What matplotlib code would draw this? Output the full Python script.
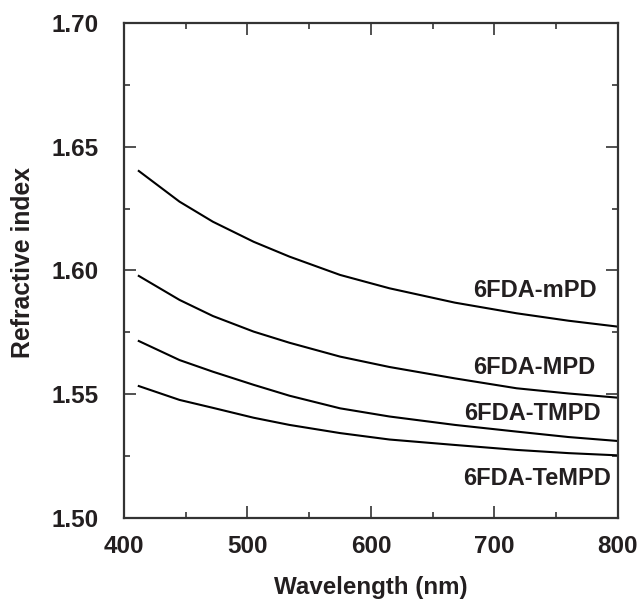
import numpy as np
import matplotlib.pyplot as plt
from matplotlib.ticker import MultipleLocator

plt.rcParams['font.family'] = ['Liberation Sans', 'DejaVu Sans']
plt.rcParams['font.weight'] = 'bold'

# wavelength (nm) and refractive index
wavelength = [412, 445, 472, 505, 534, 575, 615, 668, 718, 760, 800]
n_mPD = [1.6402, 1.6278, 1.6197, 1.6116, 1.6056, 1.5982, 1.5928, 1.5870, 1.5827, 1.5797, 1.5773]
n_MPD = [1.5978, 1.5881, 1.5816, 1.5753, 1.5708, 1.5652, 1.5610, 1.5564, 1.5524, 1.5503, 1.5486]
n_TMPD = [1.5715, 1.5638, 1.5591, 1.5538, 1.5494, 1.5443, 1.5410, 1.5376, 1.5349, 1.5327, 1.5311]
n_TeMPD = [1.5533, 1.5477, 1.5445, 1.5405, 1.5376, 1.5343, 1.5317, 1.5295, 1.5275, 1.5262, 1.5253]

series = [n_mPD, n_MPD, n_TMPD, n_TeMPD]
names = ['6FDA-mPD', '6FDA-MPD', '6FDA-TMPD', '6FDA-TeMPD']
label_x = [783, 782, 786, 794]
label_y = [1.5921, 1.5609, 1.5423, 1.5158]

txt = '#231f20'

fig = plt.figure(figsize=(6.41, 6.03), dpi=100)
ax = fig.add_axes([0.1934, 0.141, 0.7706, 0.8209])

for n in series:
    ax.plot(wavelength, n, color='black', lw=1.5)

for name, lx, ly in zip(names, label_x, label_y):
    ax.text(lx, ly, name, ha='right', va='center', fontsize=17, color=txt, fontweight='bold')

ax.set_xlim(400, 800)
ax.set_ylim(1.50, 1.70)
ax.xaxis.set_major_locator(MultipleLocator(100))
ax.xaxis.set_minor_locator(MultipleLocator(50))
ax.yaxis.set_major_locator(MultipleLocator(0.05))
ax.yaxis.set_minor_locator(MultipleLocator(0.025))
ax.yaxis.set_major_formatter(lambda v, p: f'{v:.2f}')

ax.tick_params(which='both', direction='in', top=True, right=True, color='#333333', width=1.2)
ax.tick_params(which='major', length=8.6)
ax.tick_params(which='minor', length=4.5)
ax.tick_params(axis='y', labelsize=17.5, pad=18, labelcolor=txt)
ax.tick_params(axis='x', labelsize=17.5, pad=12, labelcolor=txt)

for s in ax.spines.values():
    s.set_linewidth(1.6)
    s.set_color('#333333')

ax.set_xlabel('Wavelength (nm)', fontsize=17.4, fontweight='bold', color=txt, labelpad=13)
ax.set_ylabel('Refractive index', fontsize=17.8, fontweight='bold', color=txt, labelpad=12)
ax.yaxis.label.set_y(0.517)

fig.savefig('out.png', dpi=100)
